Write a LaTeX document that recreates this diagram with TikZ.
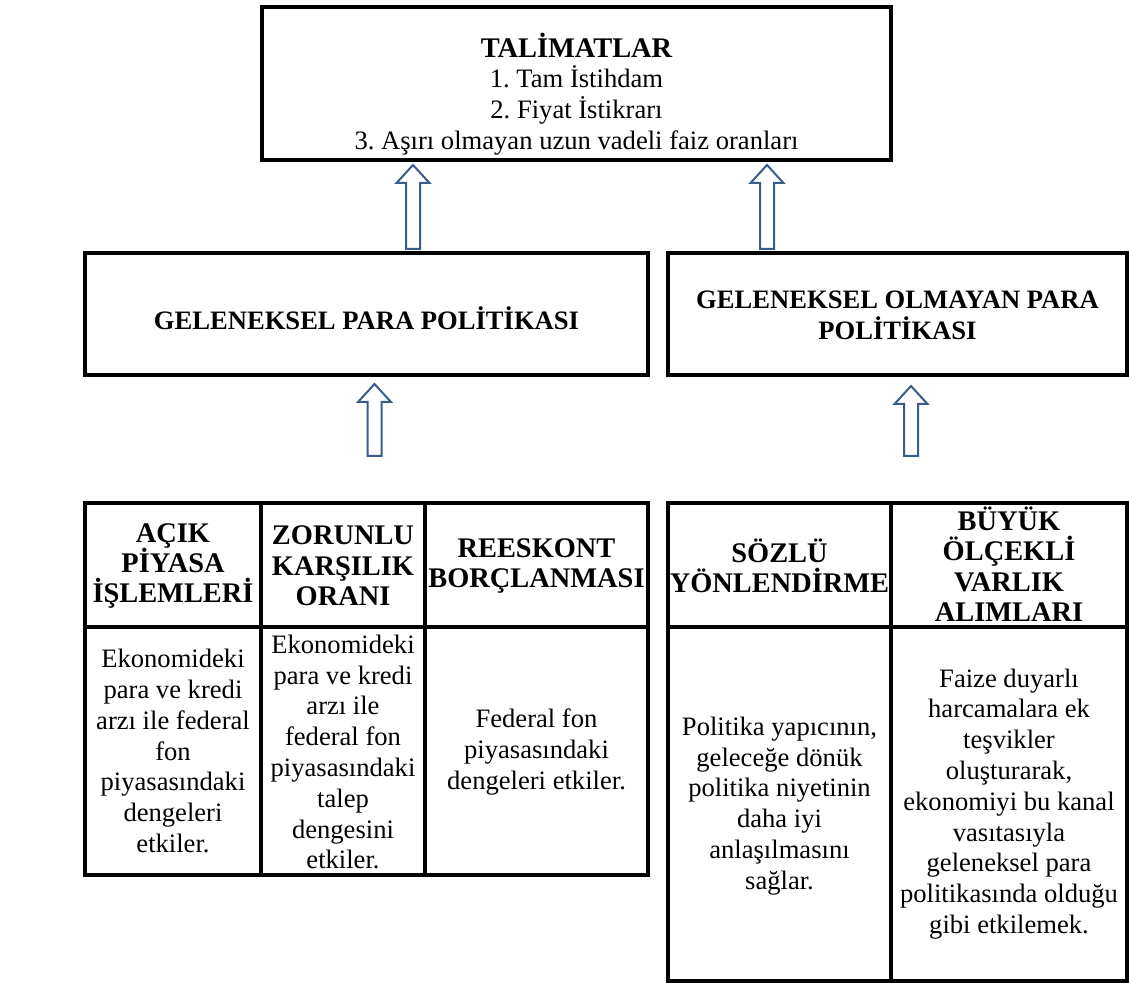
\documentclass[tikz,border=0pt]{standalone}
\usepackage{fontspec}
\setmainfont{Liberation Serif}
\usepackage{xcolor}
\usepackage{tikz}
\usetikzlibrary{calc}
\definecolor{arrowblue}{HTML}{385D8A}
\frenchspacing

\tikzset{
  boxframe/.style={draw=black, line width=1.6pt},
  titletext/.style={align=center, font=\fontsize{13.3}{15.4}\selectfont},
  midtext/.style={align=center, font=\fontsize{13.3}{15.4}\selectfont\bfseries},
  headtext/.style={align=center, font=\fontsize{14.2}{15.2}\selectfont\bfseries},
  bodytext/.style={align=center, font=\fontsize{13.3}{15.4}\selectfont},
  hollowarrow/.style={draw=arrowblue, fill=white, line width=1pt, line join=miter},
}
% hollow up arrow: x, bottom y, tip y (pixel units, y down)
\newcommand{\hollowup}[3]{%
  \draw[hollowarrow] (#1-7,#2) -- (#1-7,#3+18) -- (#1-16.5,#3+18) -- (#1,#3)
    -- (#1+16.5,#3+18) -- (#1+7,#3+18) -- (#1+7,#2) -- cycle;}

\begin{document}
\begin{tikzpicture}[x=0.5pt, y=-0.5pt]
  \useasboundingbox (0,0) rectangle (1129,983);

  % Directives box on top
  \draw[boxframe] (262,7) rectangle (891,160);
  \node[titletext] (tal) at (576.5,94) {{\fontsize{14.2}{15.4}\selectfont\bfseries TALİMATLAR}\\
    1. Tam İstihdam\\ 2. Fiyat İstikrarı\\ 3. Aşırı olmayan uzun vadeli faiz oranları};

  % Two policy boxes
  \draw[boxframe] (85,253) rectangle (648,375);
  \node[midtext] (gpp) at (366.5,318) {GELENEKSEL PARA POLİTİKASI};
  \draw[boxframe] (668,253) rectangle (1127,375);
  \node[midtext] (gopp) at (897.5,315) {GELENEKSEL OLMAYAN PARA\\ POLİTİKASI};

  % Arrows up
  \hollowup{413}{249}{165}
  \hollowup{767}{249}{165}
  \hollowup{374.5}{456}{384}
  \hollowup{911}{456}{386}

  % Conventional tools table
  \draw[boxframe] (85,503) rectangle (648,875);
  \draw[boxframe] (85,627) -- (648,627);
  \draw[boxframe] (261,503) -- (261,875);
  \draw[boxframe] (425,503) -- (425,875);
  \node[headtext] (acik) at (173,566) {AÇIK\\ PİYASA\\ İŞLEMLERİ};
  \node[headtext] (zorunlu) at (343,566) {ZORUNLU\\ KARŞILIK\\ ORANI};
  \node[headtext] (reeskont) at (536.5,566) {REESKONT\\ BORÇLANMASI};
  \node[bodytext] (acikb) at (173,751) {Ekonomideki\\ para ve kredi\\ arzı ile federal\\ fon\\
    piyasasındaki\\ dengeleri\\ etkiler.};
  \node[bodytext] (zorunlub) at (343,752) {Ekonomideki\\ para ve kredi\\ arzı ile\\ federal fon\\
    piyasasındaki\\ talep\\ dengesini\\ etkiler.};
  \node[bodytext] (reeskontb) at (536.5,752) {Federal fon\\ piyasasındaki\\ dengeleri etkiler.};

  % Unconventional tools table
  \draw[boxframe] (668,503) rectangle (1127,981);
  \draw[boxframe] (668,627) -- (1127,627);
  \draw[boxframe] (891,503) -- (891,981);
  \node[headtext] (sozlu) at (779.5,566) {SÖZLÜ\\ YÖNLENDİRME};
  \node[headtext] (buyuk) at (1009,564) {BÜYÜK\\ ÖLÇEKLİ\\ VARLIK\\ ALIMLARI};
  \node[bodytext] (sozlub) at (779.5,806) {Politika yapıcının,\\ geleceğe dönük\\ politika niyetinin\\
    daha iyi\\ anlaşılmasını\\ sağlar.};
  \node[bodytext] (buyukb) at (1009,804) {Faize duyarlı\\ harcamalara ek\\ teşvikler\\ oluşturarak,\\
    ekonomiyi bu kanal\\ vasıtasıyla\\ geleneksel para\\ politikasında olduğu\\ gibi etkilemek.};
\end{tikzpicture}
\end{document}
